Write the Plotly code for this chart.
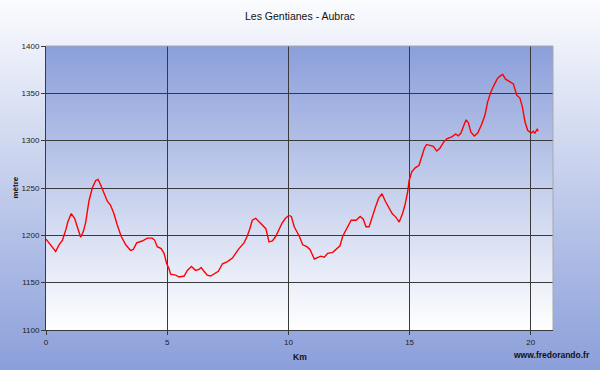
import base64, struct, zlib
import plotly.graph_objects as go

# ---- data -------------------------------------------------------------
km = [0.00, 0.19, 0.40, 0.54, 0.68, 0.82, 0.90, 1.04, 1.18, 1.29, 1.43, 1.54, 1.64, 1.77, 1.91,
      2.05, 2.15, 2.26, 2.40, 2.53, 2.66, 2.80, 2.94, 3.10, 3.29, 3.49, 3.60, 3.74, 3.97, 4.18,
      4.38, 4.48, 4.59, 4.75, 4.87, 4.98, 5.07, 5.14, 5.35, 5.49, 5.70, 5.83, 6.00, 6.17, 6.31,
      6.40, 6.52, 6.65, 6.79, 6.96, 7.11, 7.28, 7.47, 7.69, 7.82, 7.96, 8.17, 8.30, 8.41, 8.51,
      8.65, 8.79, 8.93, 9.07, 9.20, 9.34, 9.48, 9.61, 9.74, 9.88, 10.02, 10.12, 10.24, 10.45,
      10.59, 10.76, 10.89, 11.07, 11.21, 11.34, 11.48, 11.62, 11.83, 11.96, 12.13, 12.24, 12.38,
      12.59, 12.79, 12.96, 13.09, 13.20, 13.33, 13.45, 13.58, 13.72, 13.86, 14.00, 14.14, 14.28,
      14.44, 14.57, 14.71, 14.81, 14.92, 14.98, 15.09, 15.22, 15.39, 15.50, 15.61, 15.70, 15.84,
      15.98, 16.12, 16.25, 16.39, 16.53, 16.74, 16.90, 17.01, 17.12, 17.22, 17.33, 17.42, 17.53,
      17.67, 17.81, 17.97, 18.11, 18.22, 18.36, 18.49, 18.63, 18.77, 18.84, 18.96, 19.14, 19.28,
      19.42, 19.55, 19.65, 19.76, 19.87, 20.01, 20.10, 20.17, 20.26, 20.31]
altitude = [1196, 1190, 1183, 1190, 1195, 1206, 1214, 1223, 1218, 1209, 1198, 1204, 1214, 1236, 1250,
            1258, 1259, 1253, 1244, 1236, 1232, 1223, 1211, 1199, 1190, 1184, 1185, 1192, 1194, 1197,
            1197, 1195, 1188, 1186, 1181, 1170, 1165, 1159, 1158, 1156, 1157, 1163, 1167, 1163, 1164,
            1166, 1162, 1158, 1157, 1160, 1162, 1170, 1172, 1176, 1181, 1186, 1192, 1199, 1207, 1216,
            1218, 1214, 1211, 1207, 1193, 1194, 1199, 1206, 1213, 1218, 1221, 1220, 1209, 1199,
            1190, 1188, 1185, 1175, 1177, 1178, 1177, 1181, 1182, 1185, 1189, 1199, 1206,
            1216, 1216, 1220, 1217, 1209, 1209, 1220, 1229, 1239, 1244, 1236, 1229, 1223,
            1219, 1214, 1223, 1232, 1246, 1258, 1267, 1271, 1274, 1283, 1292, 1296, 1295,
            1294, 1289, 1292, 1298, 1302, 1304, 1307, 1305, 1308, 1315, 1322, 1319, 1309,
            1305, 1308, 1317, 1327, 1341, 1352, 1359, 1366, 1369, 1370, 1365, 1362, 1360,
            1348, 1345, 1336, 1320, 1311, 1308, 1310, 1308, 1312, 1310]
x_ticks = [0, 5, 10, 15, 20]
y_ticks = [1100, 1150, 1200, 1250, 1300, 1350, 1400]

TITLE = "Les Gentianes - Aubrac"
X_TITLE = "Km"
Y_TITLE = "mètre"
CREDIT = "www.fredorando.fr"

# ---- gradient helper ---------------------------------------------------
def gradient_png(top, bottom, n=256):
    raw = b""
    for i in range(n):
        t = i / (n - 1)
        px = bytes(int(round(top[k] + (bottom[k] - top[k]) * t)) for k in range(3))
        raw += b"\x00" + px
    def chunk(tag, data):
        c = struct.pack(">I", len(data)) + tag + data
        return c + struct.pack(">I", zlib.crc32(tag + data) & 0xffffffff)
    png = b"\x89PNG\r\n\x1a\n"
    png += chunk(b"IHDR", struct.pack(">IIBBBBB", 1, n, 8, 2, 0, 0, 0))
    png += chunk(b"IDAT", zlib.compress(raw, 9))
    png += chunk(b"IEND", b"")
    return "data:image/png;base64," + base64.b64encode(png).decode()

BLUE = (139, 159, 218)
WHITE_OUT = (251, 252, 254)
WHITE_IN = (255, 255, 255)

W, H = 600, 370
ML, MR, MT, MB = 46, 47, 46, 40
PW, PH = W - ML - MR, H - MT - MB

fig = go.Figure()
fig.add_trace(go.Scatter(x=km, y=altitude, mode="lines",
                         line=dict(color="#ff0000", width=1.4), hoverinfo="skip"))

fig.add_layout_image(dict(source=gradient_png(WHITE_OUT, BLUE), xref="paper", yref="paper",
                          x=-ML / PW, y=1 + MT / PH, sizex=W / PW, sizey=H / PH,
                          xanchor="left", yanchor="top", sizing="stretch", layer="below"))
fig.add_layout_image(dict(source=gradient_png(BLUE, WHITE_IN), xref="paper", yref="paper",
                          x=0, y=1, sizex=1, sizey=1,
                          xanchor="left", yanchor="top", sizing="stretch", layer="below"))

# light frame on top & right
fig.add_shape(type="line", xref="paper", yref="paper", x0=0, x1=1, y0=1, y1=1,
              line=dict(color="#a8a8a8", width=1), layer="above")
fig.add_shape(type="line", xref="paper", yref="paper", x0=1, x1=1, y0=0, y1=1,
              line=dict(color="#a8a8a8", width=1), layer="above")

axis_common = dict(showgrid=True, gridcolor="#3a3a3a", gridwidth=1, zeroline=False,
                   showline=True, linecolor="#3a3a3a", linewidth=1,
                   ticks="outside", ticklen=4, tickcolor="#3a3a3a",
                   tickfont=dict(family="Liberation Sans, Arial, sans-serif", size=8, color="#222"))

fig.update_xaxes(range=[0, PW / 24.24], tickmode="array", tickvals=x_ticks,
                 ticktext=[str(v) for v in x_ticks], **axis_common)
fig.update_yaxes(range=[1100, 1400], tickmode="array", tickvals=y_ticks,
                 ticktext=[str(v) for v in y_ticks], **axis_common)

font_b = "Liberation Sans, Arial, sans-serif"
fig.add_annotation(text=TITLE, xref="paper", yref="paper", x=(300 - ML) / PW, y=1 + (MT - 16) / PH,
                   showarrow=False, xanchor="center", yanchor="middle",
                   font=dict(family=font_b, size=10.5, color="#111"))
fig.add_annotation(text="<b>" + X_TITLE + "</b>", xref="paper", yref="paper", x=0.5,
                   y=-(357 - (MT + PH)) / PH, showarrow=False, xanchor="center", yanchor="middle",
                   font=dict(family=font_b, size=8.5, color="#111"))
fig.add_annotation(text="<b>" + Y_TITLE + "</b>", xref="paper", yref="paper", x=(14.5 - ML) / PW,
                   y=0.5, textangle=-90, showarrow=False, xanchor="center", yanchor="middle",
                   font=dict(family=font_b, size=8, color="#111"))
fig.add_annotation(text="<b>" + CREDIT + "</b>", xref="paper", yref="paper", x=(592 - ML) / PW,
                   y=-(354.5 - (MT + PH)) / PH, showarrow=False, xanchor="right", yanchor="middle",
                   font=dict(family=font_b, size=8.5, color="#111"))

fig.update_layout(width=W, height=H, autosize=False,
                  margin=dict(l=ML, r=MR, t=MT, b=MB, pad=0),
                  paper_bgcolor=f"rgb{BLUE}", plot_bgcolor="rgba(0,0,0,0)",
                  showlegend=False)

fig.write_html("out.html", config={"displayModeBar": False, "responsive": False},
               post_script="document.body.style.margin='0';")
